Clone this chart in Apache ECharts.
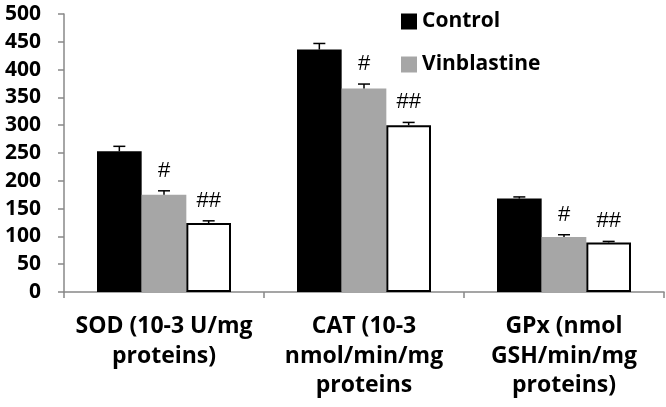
<!DOCTYPE html>
<html>
<head>
<meta charset="utf-8">
<script src="https://cdn.jsdelivr.net/npm/echarts@6/dist/echarts.min.js"></script>
<style>html,body{margin:0;padding:0;background:#fff}#c{width:666px;height:407px}</style>
</head>
<body>
<div id="c"></div>
<script>
var categories = ['SOD (10-3 U/mg\nproteins)', 'CAT (10-3\nnmol/min/mg\nproteins', 'GPx (nmol\nGSH/min/mg\nproteins)'];
var yTicks = {min: 0, max: 500, interval: 50};
var controlVals = [253, 436, 168];
var controlErr = [9, 11, 3];
var vinVals = [175, 366, 99];
var vinErr = [7, 8, 4];
var thirdVals = [124, 300, 89];
var thirdErr = [4, 5, 2];
var controlMarks = ['', '', ''];
var vinMarks = ['#', '#', '#'];
var thirdMarks = ['##', '##', '##'];

var groups = [
  {vals: controlVals, err: controlErr, marks: controlMarks},
  {vals: vinVals, err: vinErr, marks: vinMarks},
  {vals: thirdVals, err: thirdErr, marks: thirdMarks}
];
var errData = [];
groups.forEach(function (g, gi) {
  g.vals.forEach(function (v, ci) {
    errData.push([ci, v, g.err[ci], gi, g.marks[ci]]);
  });
});

var FONT = 'Open Sans';
var gapPct = 0.33;
var chart = echarts.init(document.getElementById('c'));
chart.setOption({
  animation: false,
  backgroundColor: '#fff',
  textStyle: {fontFamily: FONT},
  grid: {left: 64, right: 2, top: 14, bottom: 115, containLabel: false},
  legend: {
    data: ['Control', 'Vinblastine'],
    orient: 'vertical',
    left: 396, top: 6,
    icon: 'rect', itemWidth: 16, itemHeight: 16, itemGap: 22,
    textStyle: {fontFamily: FONT, fontWeight: 'bold', fontSize: 21, color: '#000'}
  },
  xAxis: {
    type: 'category',
    data: categories,
    axisLine: {lineStyle: {color: '#888', width: 1.5}},
    axisTick: {show: true, length: 6, lineStyle: {color: '#888', width: 1.5}},
    axisLabel: {color: '#000', fontFamily: FONT, fontWeight: 'bold', fontSize: 23, lineHeight: 29.5, margin: 20, interval: 0}
  },
  yAxis: {
    type: 'value',
    min: yTicks.min, max: yTicks.max, interval: yTicks.interval,
    splitLine: {show: false},
    axisLine: {show: true, lineStyle: {color: '#888', width: 1.5}},
    axisTick: {show: true, length: 6, lineStyle: {color: '#888', width: 1.5}},
    axisLabel: {color: '#000', fontFamily: FONT, fontWeight: 'bold', fontSize: 21, margin: 23}
  },
  series: [
    {name: 'Control', type: 'bar', data: controlVals, barGap: '0%', barCategoryGap: '33%', itemStyle: {color: '#000'}},
    {name: 'Vinblastine', type: 'bar', data: vinVals, barGap: '0%', barCategoryGap: '33%', itemStyle: {color: '#a6a6a6'}},
    {name: 'Treated', type: 'bar', data: thirdVals, barGap: '0%', barCategoryGap: '33%', itemStyle: {color: '#fff', borderColor: '#000', borderWidth: 2}},
    {
      type: 'custom', name: 'err', z: 10,
      data: errData,
      encode: {x: 0, y: 1},
      renderItem: function (params, api) {
        var ci = api.value(0), v = api.value(1), e = api.value(2), gi = api.value(3);
        var mark = errData[params.dataIndex][4];
        var band = api.size([1, 0])[0];
        var bw = band * (1 - gapPct) / 3;
        var cx = api.coord([ci, 0])[0] + (gi - 1) * bw;
        var base = api.coord([ci, v])[1];
        var top = api.coord([ci, v + e])[1];
        var st = {stroke: '#000', lineWidth: 1.5};
        var children = [
          {type: 'line', shape: {x1: cx, y1: base, x2: cx, y2: top}, style: st},
          {type: 'line', shape: {x1: cx - 6, y1: top, x2: cx + 6, y2: top}, style: st}
        ];
        if (mark) {
          children.push({type: 'text', x: cx, y: top - 20, style: {text: mark, fill: '#000', font: '22px "Liberation Sans"', align: 'center', verticalAlign: 'middle'}});
        }
        return {type: 'group', children: children};
      }
    }
  ]
});
</script>
</body>
</html>
